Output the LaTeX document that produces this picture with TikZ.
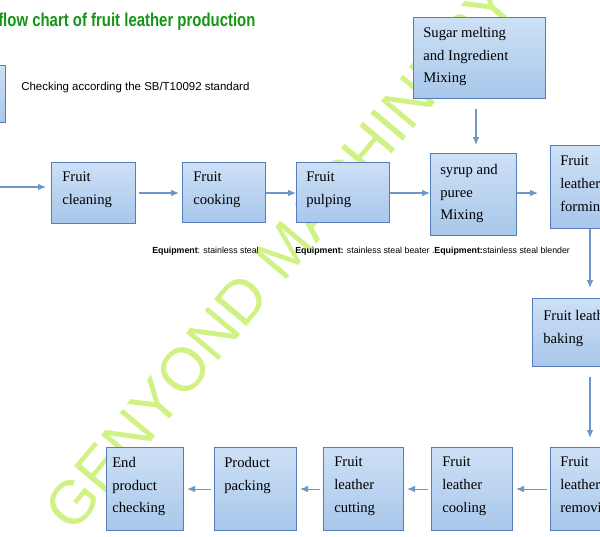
\documentclass[tikz,border=0pt]{standalone}
\usepackage{fontspec}
\setmainfont{Liberation Serif}
\setsansfont{Liberation Sans}
\newfontfamily\titlefont[FakeStretch=0.8]{Liberation Sans}
\usetikzlibrary{arrows.meta}
\definecolor{boxfill}{RGB}{168,199,234}
\definecolor{boxtop}{RGB}{205,224,246}
\definecolor{boxline}{RGB}{84,125,185}
\definecolor{arrowcol}{RGB}{110,150,200}
\definecolor{titlegreen}{RGB}{20,150,20}
\definecolor{markgreen}{RGB}{200,240,110}
\newlength{\px}
\setlength{\px}{0.75pt}

\begin{document}
\begin{tikzpicture}[x=\px, y=-\px,
    rect/.style={draw=boxline, rectangle, anchor=north west, top color=boxtop, bottom color=boxfill, line width=0.8pt, inner sep=0pt},
    boxtext/.style={anchor=north west, align=left, inner sep=0pt, font=\fontsize{11}{17}\selectfont},
    flow/.style={draw=arrowcol, line width=0.8pt, -{Latex[length=6pt,width=5pt]}},
    equip/.style={anchor=west, inner sep=0pt, font=\sffamily\fontsize{6.6}{8}\selectfont}]
    \useasboundingbox (0,0) rectangle (600,536);
    \clip (0,0) rectangle (600,536);

    % Watermark
    \node[text=markgreen, rotate=50, font=\sffamily\fontsize{46}{46}\selectfont, opacity=0.85] (mark) at (280,255) {GENYOND MACHINERY};

    % Title and top row
    \node[anchor=west, inner sep=0pt, text=titlegreen, font=\titlefont\bfseries\fontsize{14}{16}\selectfont] (title) at (-2,22) {flow chart of fruit leather production};
    \node[rect, minimum width=40\px, minimum height=57\px] (check-box) at (-35,65) {};
    \node[anchor=west, inner sep=0pt, font=\sffamily\fontsize{8.6}{10}\selectfont] (check-text) at (21,88) {Checking according the SB/T10092 standard};
    \node[rect, minimum width=132\px, minimum height=81\px] (sugar) at (413,17) {};
    \node[boxtext] at (423,27) {Sugar melting\\and Ingredient\\Mixing};

    % Middle row
    \coordinate (start) at (0,187);
    \node[rect, minimum width=84\px, minimum height=61\px] (cleaning) at (51,162) {};
    \node[boxtext] at (62,172) {Fruit\\cleaning};
    \node[rect, minimum width=83\px, minimum height=60\px] (cooking) at (182,162) {};
    \node[boxtext] at (193,172) {Fruit\\cooking};
    \node[rect, minimum width=93\px, minimum height=60\px] (pulping) at (296,162) {};
    \node[boxtext] at (306,172) {Fruit\\pulping};
    \node[rect, minimum width=86\px, minimum height=82\px] (syrup) at (430,153) {};
    \node[boxtext] at (440,164) {syrup and\\puree\\Mixing};
    \node[rect, minimum width=90\px, minimum height=83\px] (forming) at (550,145) {};
    \node[boxtext] at (560,156) {Fruit\\leather\\forming};

    % Equipment notes
    \node[equip] (eq-1) at (152,251) {\textbf{Equipment}: stainless steal};
    \node[equip] (eq-2) at (295,251) {\textbf{Equipment:} stainless steal beater .\textbf{Equipment:}stainless steal blender};

    % Right column
    \node[rect, minimum width=80\px, minimum height=68\px] (baking) at (532,298) {};
    \node[boxtext] at (543,310) {Fruit leather\\baking};

    % Bottom row
    \node[rect, minimum width=77\px, minimum height=83\px] (end) at (106,447) {};
    \node[boxtext] at (112,457) {End\\product\\checking};
    \node[rect, minimum width=82\px, minimum height=83\px] (packing) at (214,447) {};
    \node[boxtext] at (224,457) {Product\\packing};
    \node[rect, minimum width=80\px, minimum height=83\px] (cutting) at (323,447) {};
    \node[boxtext] at (334,457) {Fruit\\leather\\cutting};
    \node[rect, minimum width=81\px, minimum height=83\px] (cooling) at (431,447) {};
    \node[boxtext] at (442,457) {Fruit\\leather\\cooling};
    \node[rect, minimum width=90\px, minimum height=83\px] (removing) at (550,447) {};
    \node[boxtext] at (560,457) {Fruit\\leather\\removing};

    % Connectors
    \draw[flow] (start) -- ([xshift=-5\px]cleaning.west |- start);
    \draw[flow] ([xshift=3\px]cleaning.east |- 0,193) -- ([xshift=-3\px]cooking.west |- 0,193);
    \draw[flow] (cooking.east |- 0,193) -- (pulping.west |- 0,193);
    \draw[flow] (pulping.east |- 0,193) -- (syrup.west |- 0,193);
    \draw[flow] (syrup.east |- 0,193) -- ([xshift=-12\px]forming.west |- 0,193);
    \draw[flow] ([yshift=-10\px]sugar.south -| 476,0) -- ([yshift=8\px]syrup.north -| 476,0);
    \draw[flow] (forming.south -| 590,0) -- ([yshift=10\px]baking.north -| 590,0);
    \draw[flow] ([yshift=-10\px]baking.south -| 590,0) -- ([yshift=9\px]removing.north -| 590,0);
    \draw[flow] ([xshift=-3\px]removing.west) -- ([xshift=3\px]cooling.east);
    \draw[flow] ([xshift=-3\px]cooling.west) -- ([xshift=3\px]cutting.east);
    \draw[flow] ([xshift=-3\px]cutting.west) -- ([xshift=3\px]packing.east);
    \draw[flow] ([xshift=-3\px]packing.west) -- ([xshift=3\px]end.east);
\end{tikzpicture}
\end{document}
